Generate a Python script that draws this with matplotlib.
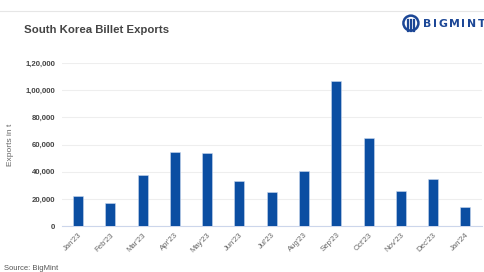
import matplotlib.pyplot as plt
from matplotlib.lines import Line2D
from matplotlib.patches import Ellipse
from matplotlib.ticker import FuncFormatter

# Donnees
months = ["Jan'23", "Feb'23", "Mar'23", "Apr'23", "May'23", "Jun'23", "Jul'23",
          "Aug'23", "Sep'23", "Oct'23", "Nov'23", "Dec'23", "Jan'24"]
exports = [22000, 17000, 37500, 54500, 53700, 33000, 25000,
           40700, 106800, 65000, 25700, 34500, 14200]
yticks = [0, 20000, 40000, 60000, 80000, 100000, 120000]

bar_color = '#0b4ea2'
logo_color = '#1c4796'

plt.rcParams['font.family'] = ['Liberation Sans', 'DejaVu Sans']

fig = plt.figure(figsize=(4.84, 2.72), dpi=100)
ax = fig.add_axes([0.128, 0.169, 0.867, 0.599])

x = range(len(months))
ax.bar(x, exports, width=0.31, color=bar_color, edgecolor='#c9d8ee', linewidth=0.4, zorder=3)

ax.set_xlim(-0.5, 12.5)
ax.set_ylim(0, 120000)
ax.set_yticks(yticks)


# Format indien : 1,20,000
def indian_format(v, pos):
    s = str(int(round(v)))
    if len(s) <= 3:
        return s
    head, tail = s[:-3], s[-3:]
    parts = []
    while len(head) > 2:
        parts.insert(0, head[-2:])
        head = head[:-2]
    if head:
        parts.insert(0, head)
    return ','.join(parts + [tail])


ax.yaxis.set_major_formatter(FuncFormatter(indian_format))
ax.set_xticks(list(x))
ax.set_xticklabels(months, rotation=45, ha='right', rotation_mode='anchor')

ax.tick_params(axis='y', length=0, labelsize=5.6, labelcolor='#444444', pad=5)
ax.tick_params(axis='x', length=0, labelsize=5.6, labelcolor='#666666', pad=4)
for lbl in ax.get_yticklabels():
    lbl.set_fontweight('bold')

ax.grid(axis='y', color='#eeeeee', linewidth=0.8, zorder=0)
for s in ['top', 'right', 'left']:
    ax.spines[s].set_visible(False)
ax.spines['bottom'].set_color('#ccd6eb')
ax.spines['bottom'].set_linewidth(0.8)

ax.set_ylabel('Exports in t', fontsize=6, color='#666666', labelpad=8)

# Titre et decorations
fig.text(0.05, 0.89, 'South Korea Billet Exports', fontsize=8.2, fontweight='bold',
         color='#444444', va='center', ha='left')
fig.add_artist(Line2D([0, 1], [0.96, 0.96], color='#e6e6e6', linewidth=0.8))

# Logo BIGMINT
cx, cy = 0.849, 0.915
fig.add_artist(Ellipse((cx, cy), 0.031, 0.055, transform=fig.transFigure,
                       facecolor='none', edgecolor=logo_color, linewidth=1.8))
for dx in [-0.006, 0.0, 0.006]:
    fig.add_artist(Line2D([cx + dx, cx + dx], [cy - 0.03, cy + 0.012], color=logo_color,
                          linewidth=1.6))

renderer = fig.canvas.get_renderer()
xpos = 0.874
for ch in 'BIGMINT':
    t = fig.text(xpos, 0.913, ch, fontsize=7.8, fontweight='bold', family='DejaVu Sans',
                 color=logo_color, va='center', ha='left')
    w = t.get_window_extent(renderer).width
    xpos += (w + 1.6) / fig.bbox.width

fig.text(0.008, 0.012, 'Source: BigMint', fontsize=5.5, color='#555555', va='center', ha='left')

fig.savefig('out.png', dpi=100)
